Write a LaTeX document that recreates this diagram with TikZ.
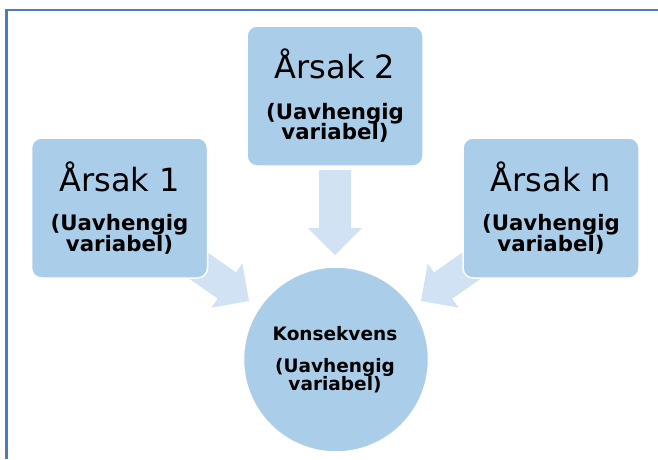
\documentclass[tikz,border=0pt]{standalone}
\usepackage{fontspec}
\setmainfont{DejaVu Sans}
\definecolor{framecol}{RGB}{74,126,187}
\definecolor{boxfill}{RGB}{170,205,234}
\definecolor{arrowfill}{RGB}{208,226,243}
\tikzset{
  causebox/.style={fill=boxfill, draw=white, line width=1.5pt, rounded corners=10pt,
    minimum width=176pt, minimum height=140pt, inner sep=0pt},
  effectcircle/.style={circle, fill=boxfill, draw=white, line width=1.5pt,
    minimum size=185pt, inner sep=0pt},
  titletext/.style={anchor=base, inner sep=0pt, font=\fontsize{32}{38}\selectfont},
  subtext/.style={anchor=base, inner sep=0pt, font=\bfseries\fontsize{21.3}{24}\selectfont},
  circtext/.style={anchor=base, inner sep=0pt, font=\bfseries\fontsize{18.5}{22}\selectfont},
  blockarrow/.pic={
    \fill[arrowfill] (0,0) -- (-27,27) -- (-27,16) -- (-85,16) -- (-85,-16)
      -- (-27,-16) -- (-27,-27) -- cycle;
  }
}
\begin{document}
\begin{tikzpicture}[x=1pt,y=-1pt]
\useasboundingbox (0,0) rectangle (658,459);

% outer frame (top and left edges)
\draw[framecol, line width=2.8pt] (6.5,459) -- (6.5,10) -- (658,10);

% block arrows pointing into the effect
\coordinate (tipmid) at (335,255);
\coordinate (tipleft) at (249,301);
\coordinate (tipright) at (421,301);
\pic[rotate=-90] at (tipmid) {blockarrow};
\pic[rotate=-35] at (tipleft) {blockarrow};
\pic[rotate=-145] at (tipright) {blockarrow};

% cause boxes
\node[causebox] (c2) at (335,96) {};
\node[causebox] (c1) at (119.5,208) {};
\node[causebox] (cn) at (551,208) {};

\node[titletext] (c2t) at (335,78) {Årsak 2};
\node[subtext] (c2a) at (335,119) {(Uavhengig};
\node[subtext] (c2b) at (335,139) {variabel)};

\node[titletext] (c1t) at (119.5,191) {Årsak 1};
\node[subtext] (c1a) at (119.5,230) {(Uavhengig};
\node[subtext] (c1b) at (119.5,251) {variabel)};

\node[titletext] (cnt) at (551,191) {Årsak n};
\node[subtext] (cna) at (551,230) {(Uavhengig};
\node[subtext] (cnb) at (551,251) {variabel)};

% effect circle
\node[effectcircle] (eff) at (336,359.5) {};
\node[circtext] (efft) at (335,340) {Konsekvens};
\node[circtext] (effa) at (335,372) {(Uavhengig};
\node[circtext] (effb) at (335,390) {variabel)};
\end{tikzpicture}
\end{document}
